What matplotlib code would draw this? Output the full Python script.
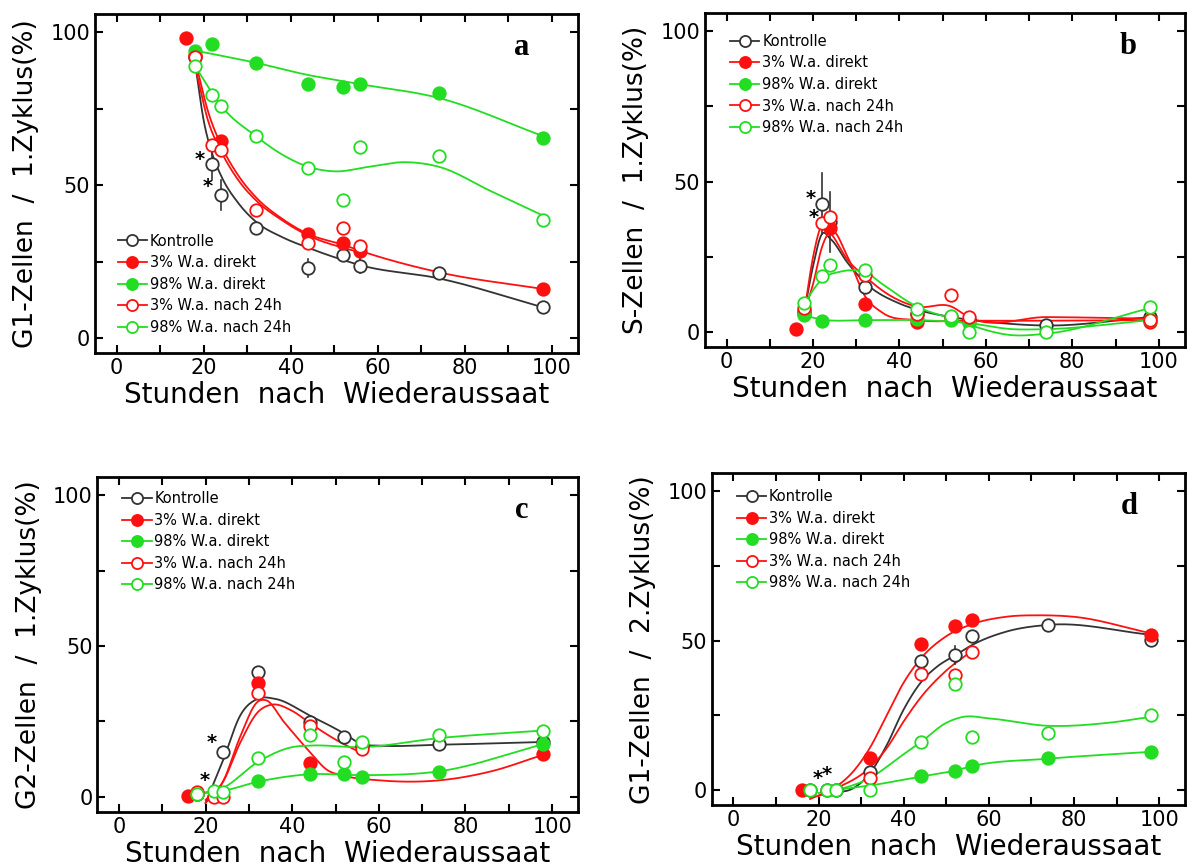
import matplotlib
matplotlib.use("Agg")
import matplotlib.pyplot as plt
import numpy as np

# colours / labels
BLACK = '#333333'
RED = '#ff1010'
GREEN = '#22dd22'
LABELS = ['Kontrolle', '3% W.a. direkt', '98% W.a. direkt',
          '3% W.a. nach 24h', '98% W.a. nach 24h']

# ---- panel a : G1 / 1. Zyklus ----
a_ctrl = ([18, 22, 24, 32, 44, 52, 56, 74, 98], [92, 57, 46.7, 36, 22.8, 27.2, 23.7, 21.4, 10])
a_ctrl_err = [0, 5, 5, 0, 3, 0, 2.5, 0, 0]
a_3d = ([16, 18, 24, 44, 52, 56, 98], [98, 92.5, 64.5, 34, 31, 28.5, 16])
a_98d = ([18, 22, 32, 44, 52, 56, 74, 98], [94, 96, 90, 83, 82, 83, 80, 65.5])
a_3n = ([18, 22, 24, 32, 44, 52, 56], [92, 63, 61.5, 42, 31, 36, 30])
a_98n = ([18, 22, 24, 32, 44, 52, 56, 74, 98], [89, 79.5, 76, 66, 55.5, 45, 62.5, 59.5, 38.5])
a_fit_ctrl = ([18, 20, 22, 24, 28, 32, 38, 44, 52, 56, 74, 98], [90, 71, 60, 53, 44, 38, 33, 29.5, 25.5, 23.8, 19.5, 10])
a_fit_3d = ([18, 21, 24, 28, 32, 38, 44, 52, 56, 74, 98], [91, 74, 63, 53, 46, 39, 34, 30.5, 28.5, 21.5, 16])
a_fit_3n = ([18, 21, 24, 28, 32, 38, 44, 52, 56], [89, 71, 61, 51.5, 45, 38.5, 33.5, 29.5, 28])
a_fit_98d = ([18, 32, 44, 52, 56, 74, 98], [94, 90, 86, 84, 83, 78.5, 66])
a_fit_98n = ([18, 22, 24, 32, 38, 44, 50, 58, 66, 74, 86, 98], [89, 80, 76, 66, 60, 56, 54.5, 56, 57.5, 56, 48, 40])

# ---- panel b : S / 1. Zyklus ----
b_ctrl = ([18, 22, 24, 32, 44, 52, 56, 74, 98], [7, 42.7, 36.5, 15, 6, 5, 4, 2.5, 5])
b_ctrl_err = [0, 10, 10, 0, 0, 0, 0, 0, 0]
b_3d = ([16, 18, 24, 32, 44, 52, 56, 98], [1, 6, 34.5, 9.5, 3.5, 5, 4, 3.5])
b_98d = ([18, 22, 32, 44, 52, 56, 98], [5.7, 3.8, 4, 4.5, 4, 3, 4])
b_3n = ([18, 22, 24, 32, 44, 52, 56, 98], [8, 36.4, 38.3, 19, 6, 12.2, 5, 4])
b_98n = ([18, 22, 24, 32, 44, 52, 56, 74, 98], [9.8, 18.7, 22.3, 20.6, 7.6, 5.4, 0.2, 0, 8.4])
b_fit_ctrl = ([18, 20, 22, 24, 28, 32, 40, 44, 52, 60, 74, 98], [7, 22, 32.5, 31, 23, 16.5, 9.5, 7.5, 5, 3.5, 2.2, 5])
b_fit_3d = ([18, 20, 22, 24, 28, 32, 36, 44, 56, 74, 98], [7, 16, 28, 33.5, 25, 12, 6.5, 4, 3.8, 3.8, 4])
b_fit_3n = ([18, 20, 22, 24, 28, 32, 38, 44, 52, 56, 74, 98], [7, 25, 35.5, 33, 24, 18.5, 12, 8.5, 8.5, 5, 5, 4.5])
b_fit_98d = ([18, 22, 32, 44, 56, 66, 74, 98], [5.5, 4.2, 4, 4, 3, 1, 1, 4])
b_fit_98n = ([18, 20, 22, 26, 30, 32, 36, 44, 52, 56, 66, 74, 98], [9.5, 14, 17.5, 20, 20.5, 20, 16, 8.5, 4.5, 2.5, -1, -0.5, 8])

# ---- panel c : G2 / 1. Zyklus ----
c_ctrl = ([18, 24, 32, 44, 52, 56, 74, 98], [1, 15, 41.5, 24.8, 19.8, 17, 17.4, 18.2])
c_ctrl_err = [0, 0, 1.5, 0, 0, 0, 0, 0]
c_3d = ([16, 18, 32, 44, 98], [0.3, 1, 37.8, 11.1, 14.3])
c_98d = ([18, 32, 44, 52, 56, 74, 98], [1, 5.2, 7.5, 7.5, 6.5, 8.4, 17.4])
c_3n = ([18, 22, 24, 32, 44, 56], [1.5, 0, 0, 34.5, 23.4, 16])
c_98n = ([18, 22, 24, 32, 44, 52, 56, 74, 98], [1, 2, 1.5, 13, 20.4, 11.7, 18.3, 20.4, 22])
c_fit_ctrl = ([20, 24, 28, 32, 36, 44, 52, 56, 60, 74, 98], [-2, 12, 27, 32.5, 32.5, 27, 21, 17.5, 17, 17.3, 18.2])
c_fit_3d = ([20, 24, 28, 32, 34, 38, 44, 48, 52, 60, 74, 86, 98], [-2, 5, 20, 31.5, 32, 25, 15, 9, 7, 5.5, 5.5, 8.5, 14])
c_fit_3n = ([20, 24, 28, 32, 35, 40, 44, 50, 56], [-1, 5, 18, 28, 30.5, 28.5, 24.5, 19, 14.5])
c_fit_98d = ([18, 24, 32, 44, 56, 74, 98], [1, 2, 5, 7.5, 7.2, 8.5, 17.5])
c_fit_98n = ([18, 24, 32, 40, 44, 56, 74, 98], [1, 3, 11.5, 16.5, 17, 16.5, 19.5, 22])

# ---- panel d : G1 / 2. Zyklus ----
d_ctrl = ([18, 22, 24, 32, 44, 52, 56, 74, 98], [0, 0, 0, 6.1, 43.3, 45.3, 51.7, 55.3, 50.3])
d_ctrl_err = [0, 0, 0, 0, 0, 3, 0, 0, 0]
d_3d = ([16, 32, 44, 52, 56, 98], [0, 10.6, 48.9, 55, 56.9, 51.9])
d_98d = ([44, 52, 56, 74, 98], [4.8, 6.3, 8.1, 10.6, 12.8])
d_3n = ([32, 44, 52, 56], [4.1, 38.9, 38.4, 46.3])
d_98n = ([18, 22, 24, 32, 44, 52, 56, 74, 98], [0, 0, 0, 0, 16.1, 35.6, 17.8, 19.2, 25])
d_fit_ctrl = ([24, 28, 32, 36, 40, 44, 48, 52, 56, 64, 74, 98], [-1, 0.5, 5.5, 15, 27, 36, 41.5, 45, 48.5, 53, 55.3, 52])
d_fit_3d = ([18, 24, 28, 32, 36, 40, 44, 50, 56, 64, 72, 80, 98], [-3, 1, 6, 14, 25, 36, 44, 51.5, 55.5, 58, 58.5, 58, 52.5])
d_fit_3n = ([20, 24, 32, 36, 40, 44, 50, 56], [-2, 0.5, 7.5, 14, 23, 31, 40, 46.5])
d_fit_98d = ([24, 32, 44, 52, 56, 74, 98], [0, 1.5, 4.5, 6.5, 8, 10.5, 12.8])
d_fit_98n = ([20, 24, 32, 40, 44, 50, 54, 60, 74, 88, 98], [-1, 0, 4, 12, 16, 22.5, 24.5, 24, 21.5, 22.5, 24.5])

# asterisks (x, y) per panel
a_stars = [(19, 58.5), (21, 49.5)]
b_stars = [(19.5, 44.5), (20.2, 38)]
c_stars = [(21.5, 18), (19.7, 5.4)]
d_stars = [(19.7, 3.7), (21.9, 5.2)]


def hermite(xs, ys, n=30):
    # smooth cubic hermite curve through the knots (drawing only)
    xs = np.asarray(xs, float)
    ys = np.asarray(ys, float)
    m = np.gradient(ys, xs)
    out_x, out_y = [], []
    for i in range(len(xs) - 1):
        h = xs[i + 1] - xs[i]
        t = np.linspace(0, 1, n, endpoint=False)
        h00 = 2 * t**3 - 3 * t**2 + 1
        h10 = t**3 - 2 * t**2 + t
        h01 = -2 * t**3 + 3 * t**2
        h11 = t**3 - t**2
        out_x.append(xs[i] + t * h)
        out_y.append(h00 * ys[i] + h10 * h * m[i] + h01 * ys[i + 1] + h11 * h * m[i + 1])
    out_x.append([xs[-1]])
    out_y.append([ys[-1]])
    return np.concatenate(out_x), np.concatenate(out_y)


STYLE = [(BLACK, 'white'), (RED, RED), (GREEN, GREEN), (RED, 'white'), (GREEN, 'white')]


def draw_panel(ax, series, fits, ctrl_err, stars, letter, ylabel, legend_anchor):
    for (cx, cy), (col, _) in zip(fits, STYLE):
        fx, fy = hermite(cx, cy)
        ax.plot(fx, fy, color=col, lw=1.3, zorder=2)
    # error bars of control
    ex, ey = series[0]
    for x, y, e in zip(ex, ey, ctrl_err):
        if e > 0:
            ax.plot([x, x], [y - e, y + e], color=BLACK, lw=1.2, zorder=2)
    handles = []
    order = [2, 1, 4, 3, 0]
    for i in order:
        (x, y), (col, face) = series[i], STYLE[i]
        ax.plot(x, y, 'o', ms=9, mfc=face, mec=col, mew=1.3, ls='none', zorder=3 + i * 0.1)
    for i, (col, face) in enumerate(STYLE):
        h, = ax.plot([], [], '-o', color=col, ms=8, mfc=face, mec=col, mew=1.3, lw=1.3)
        handles.append(h)
    for sx, sy in stars:
        ax.text(sx, sy, '*', fontsize=14, fontweight='bold', ha='center', va='center', zorder=5)
    ax.text(93, 95, letter, fontsize=22, fontweight='bold', family='Liberation Serif',
            ha='center', va='center')
    ax.legend(handles, LABELS, loc='upper left', bbox_to_anchor=legend_anchor, frameon=False,
              fontsize=10.5, handlelength=2.0, handletextpad=0.2, labelspacing=0.45,
              borderaxespad=0)

    ax.set_xlim(-5, 106)
    ax.set_ylim(-5, 106)
    ax.set_xticks(np.arange(0, 101, 20))
    ax.set_xticks(np.arange(0, 101, 10), minor=True)
    ax.set_yticks([0, 50, 100])
    ax.set_yticks([25, 75], minor=True)
    ax.tick_params(which='both', direction='in', top=True, right=True, length=6, width=1.5,
                   labelsize=15)
    for sp in ax.spines.values():
        sp.set_linewidth(2)
    ax.set_xlabel('Stunden  nach  Wiederaussaat', fontsize=20, labelpad=2)
    ax.set_ylabel(ylabel, fontsize=19, labelpad=8)


fig = plt.figure(figsize=(11.87, 8.68), dpi=100)
ax_a = fig.add_axes([0.080, 0.593, 0.407, 0.391])
ax_b = fig.add_axes([0.594, 0.600, 0.404, 0.385])
ax_c = fig.add_axes([0.082, 0.0645, 0.405, 0.386])
ax_d = fig.add_axes([0.600, 0.0726, 0.398, 0.382])

draw_panel(ax_a, [a_ctrl, a_3d, a_98d, a_3n, a_98n],
           [a_fit_ctrl, a_fit_3d, a_fit_98d, a_fit_3n, a_fit_98n],
           a_ctrl_err, a_stars, 'a', 'G1-Zellen  /  1.Zyklus(%)', (0.035, 0.37))
draw_panel(ax_b, [b_ctrl, b_3d, b_98d, b_3n, b_98n],
           [b_fit_ctrl, b_fit_3d, b_fit_98d, b_fit_3n, b_fit_98n],
           b_ctrl_err, b_stars, 'b', 'S-Zellen  /  1.Zyklus(%)', (0.04, 0.955))
draw_panel(ax_c, [c_ctrl, c_3d, c_98d, c_3n, c_98n],
           [c_fit_ctrl, c_fit_3d, c_fit_98d, c_fit_3n, c_fit_98n],
           c_ctrl_err, c_stars, 'c', 'G2-Zellen  /  1.Zyklus(%)', (0.04, 0.975))
draw_panel(ax_d, [d_ctrl, d_3d, d_98d, d_3n, d_98n],
           [d_fit_ctrl, d_fit_3d, d_fit_98d, d_fit_3n, d_fit_98n],
           d_ctrl_err, d_stars, 'd', 'G1-Zellen  /  2.Zyklus(%)', (0.04, 0.97))

fig.savefig('out.png', dpi=100)
